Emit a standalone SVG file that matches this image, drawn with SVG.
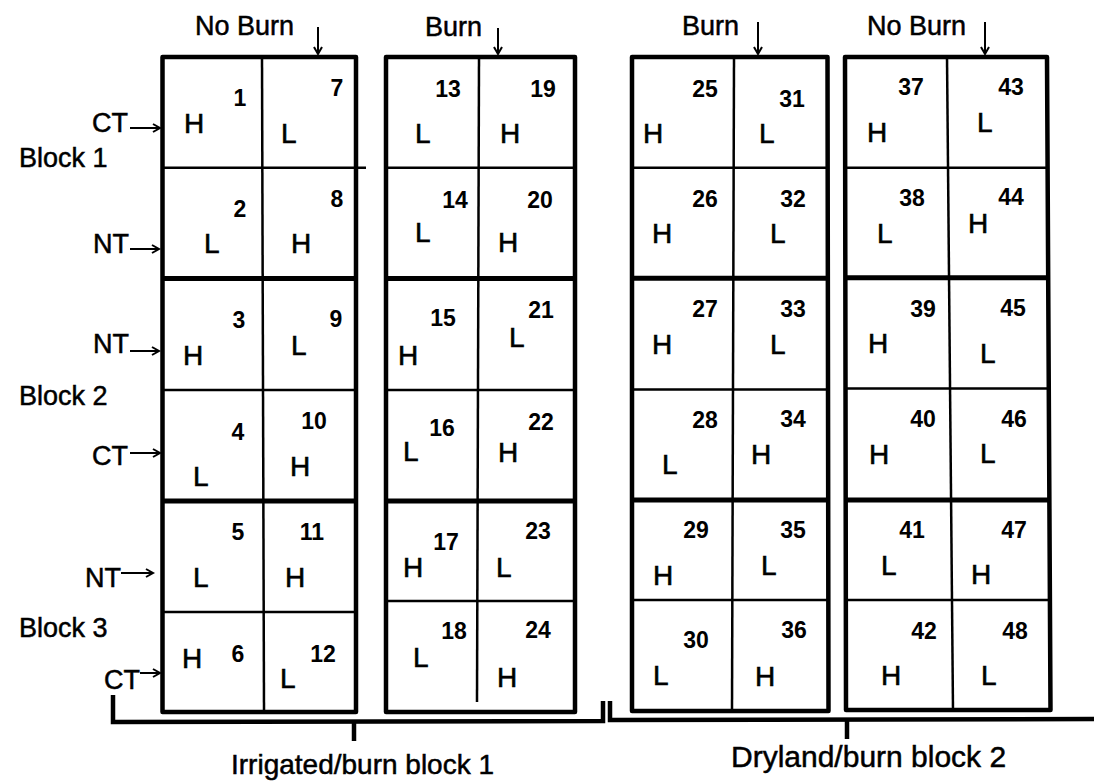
<svg xmlns="http://www.w3.org/2000/svg" width="1094" height="781" viewBox="0 0 1094 781">
<style>
text{font-family:"Liberation Sans",Arial,sans-serif;fill:#000}
.lbl{font-size:27px;stroke:#000;stroke-width:0.5}
.big{font-size:28px;stroke:#000;stroke-width:0.5}
.hl{font-size:28px;stroke:#000;stroke-width:0.6}
.num{font-size:23px;font-weight:bold;text-anchor:middle}
.outer{fill:none;stroke:#000;stroke-width:4.5;stroke-linejoin:round}
.thin{stroke:#000;stroke-width:2.5;fill:none}
.thick{stroke:#000;stroke-width:5;fill:none}
.conn{stroke:#000;stroke-width:2;fill:none}
.brk{stroke:#000;stroke-width:4.5;fill:none}
</style>
<defs>
<marker id="ah" markerUnits="userSpaceOnUse" markerWidth="12" markerHeight="12" refX="9" refY="5" orient="auto">
<path d="M2,1 L9,5 L2,9" fill="none" stroke="#000" stroke-width="2"/>
</marker>
</defs>
<rect width="1094" height="781" fill="#fff"/>

<g id="labels">
<text class="lbl" x="195" y="35">No Burn</text>
<text class="lbl" x="425" y="36">Burn</text>
<text class="lbl" x="682" y="35">Burn</text>
<text class="lbl" x="867" y="35">No Burn</text>
<text class="lbl" x="19" y="167">Block 1</text>
<text class="lbl" x="19" y="405">Block 2</text>
<text class="lbl" x="19" y="637">Block 3</text>
<text class="lbl" x="92" y="132">CT</text>
<text class="lbl" x="93" y="253">NT</text>
<text class="lbl" x="93" y="353">NT</text>
<text class="lbl" x="92" y="465">CT</text>
<text class="lbl" x="85" y="587">NT</text>
<text class="lbl" x="104" y="689">CT</text>
<text class="big" x="231" y="774">Irrigated/burn block 1</text>
<text class="big" style="font-size:30px" x="731" y="767">Dryland/burn block 2</text>
</g>

<g id="panel-1">
<rect class="outer" x="162.5" y="57" width="193.5" height="655"/>
<path class="thin" d="M262,57 L264,712"/>
<path class="thin" d="M162,167.7 L366,167.7 M162,390 L356,390 M162,612 L356,612"/>
<path class="thick" d="M162,278.5 L356,278.5 M162,501 L356,501"/>
</g>
<g id="panel-2">
<rect class="outer" x="386" y="57" width="189" height="655"/>
<path class="thin" d="M479,57 L477,702"/>
<path class="thin" d="M386,167.7 L575,167.7 M386,390 L575,390 M386,601 L575,601"/>
<path class="thick" d="M386,278.5 L575,278.5 M386,501 L575,501"/>
</g>
<g id="panel-3">
<path class="outer" d="M632,57 L827.5,57 L828.5,711 L632,711 Z"/>
<path class="thin" d="M734,57 L732,711"/>
<path class="thin" d="M632,167.7 L828,167.7 M632,389.5 L828,389.5 M632,600 L828,600"/>
<path class="thick" d="M632,278.3 L828,278.3 M632,500 L828,500"/>
</g>
<g id="panel-4">
<path class="outer" d="M845,57 L1047,57 L1050.5,710 L846,710 Z"/>
<path class="thin" d="M947,57 L953,710"/>
<path class="thin" d="M845,167.7 L1047.5,167.7 M845,388.5 L1048.5,388.5 M846,600 L1049.5,600"/>
<path class="thick" d="M845,277.7 L1048,277.7 M846,500 L1049,500"/>
</g>

<g id="cell-1"><text class="num" x="240" y="106">1</text><text class="hl" x="184" y="133">H</text></g>
<g id="cell-7"><text class="num" x="337" y="96">7</text><text class="hl" x="281" y="143">L</text></g>
<g id="cell-2"><text class="num" x="240" y="217">2</text><text class="hl" x="204" y="253">L</text></g>
<g id="cell-8"><text class="num" x="337" y="207">8</text><text class="hl" x="291" y="253">H</text></g>
<g id="cell-3"><text class="num" x="239" y="328">3</text><text class="hl" x="183" y="365">H</text></g>
<g id="cell-9"><text class="num" x="336" y="327">9</text><text class="hl" x="291" y="355">L</text></g>
<g id="cell-4"><text class="num" x="238" y="440">4</text><text class="hl" x="193" y="486">L</text></g>
<g id="cell-10"><text class="num" x="314" y="429">10</text><text class="hl" x="290" y="476">H</text></g>
<g id="cell-5"><text class="num" x="238" y="540">5</text><text class="hl" x="193" y="587">L</text></g>
<g id="cell-11"><text class="num" x="312" y="540">11</text><text class="hl" x="285" y="587">H</text></g>
<g id="cell-6"><text class="num" x="238" y="662">6</text><text class="hl" x="182" y="668">H</text></g>
<g id="cell-12"><text class="num" x="323" y="662">12</text><text class="hl" x="280" y="688">L</text></g>

<g id="cell-13"><text class="num" x="448" y="97">13</text><text class="hl" x="415" y="143">L</text></g>
<g id="cell-19"><text class="num" x="543" y="97">19</text><text class="hl" x="500" y="143">H</text></g>
<g id="cell-14"><text class="num" x="455" y="208">14</text><text class="hl" x="415" y="242">L</text></g>
<g id="cell-20"><text class="num" x="540" y="208">20</text><text class="hl" x="498" y="252">H</text></g>
<g id="cell-15"><text class="num" x="443" y="326">15</text><text class="hl" x="398" y="365">H</text></g>
<g id="cell-21"><text class="num" x="541" y="318">21</text><text class="hl" x="509" y="347">L</text></g>
<g id="cell-16"><text class="num" x="442" y="436">16</text><text class="hl" x="403" y="461">L</text></g>
<g id="cell-22"><text class="num" x="541" y="430">22</text><text class="hl" x="498" y="462">H</text></g>
<g id="cell-17"><text class="num" x="446" y="550">17</text><text class="hl" x="403" y="577">H</text></g>
<g id="cell-23"><text class="num" x="538" y="539">23</text><text class="hl" x="496" y="577">L</text></g>
<g id="cell-18"><text class="num" x="454" y="639">18</text><text class="hl" x="413" y="667">L</text></g>
<g id="cell-24"><text class="num" x="538" y="638">24</text><text class="hl" x="497" y="687">H</text></g>

<g id="cell-25"><text class="num" x="705" y="97">25</text><text class="hl" x="643" y="143">H</text></g>
<g id="cell-31"><text class="num" x="792" y="107">31</text><text class="hl" x="759" y="143">L</text></g>
<g id="cell-26"><text class="num" x="705" y="207">26</text><text class="hl" x="652" y="243">H</text></g>
<g id="cell-32"><text class="num" x="793" y="207">32</text><text class="hl" x="770" y="243">L</text></g>
<g id="cell-27"><text class="num" x="705" y="317">27</text><text class="hl" x="652" y="354">H</text></g>
<g id="cell-33"><text class="num" x="793" y="317">33</text><text class="hl" x="770" y="354">L</text></g>
<g id="cell-28"><text class="num" x="705" y="428">28</text><text class="hl" x="662" y="474">L</text></g>
<g id="cell-34"><text class="num" x="793" y="427">34</text><text class="hl" x="751" y="464">H</text></g>
<g id="cell-29"><text class="num" x="696" y="538">29</text><text class="hl" x="653" y="585">H</text></g>
<g id="cell-35"><text class="num" x="793" y="538">35</text><text class="hl" x="761" y="575">L</text></g>
<g id="cell-30"><text class="num" x="696" y="648">30</text><text class="hl" x="653" y="685">L</text></g>
<g id="cell-36"><text class="num" x="794" y="638">36</text><text class="hl" x="755" y="686">H</text></g>

<g id="cell-37"><text class="num" x="911" y="95">37</text><text class="hl" x="867" y="142">H</text></g>
<g id="cell-43"><text class="num" x="1011" y="95">43</text><text class="hl" x="977" y="132">L</text></g>
<g id="cell-38"><text class="num" x="912" y="206">38</text><text class="hl" x="877" y="243">L</text></g>
<g id="cell-44"><text class="num" x="1011" y="205">44</text><text class="hl" x="968" y="233">H</text></g>
<g id="cell-39"><text class="num" x="923" y="317">39</text><text class="hl" x="868" y="353">H</text></g>
<g id="cell-45"><text class="num" x="1013" y="316">45</text><text class="hl" x="980" y="363">L</text></g>
<g id="cell-40"><text class="num" x="923" y="427">40</text><text class="hl" x="869" y="464">H</text></g>
<g id="cell-46"><text class="num" x="1014" y="427">46</text><text class="hl" x="980" y="463">L</text></g>
<g id="cell-41"><text class="num" x="912" y="538">41</text><text class="hl" x="881" y="575">L</text></g>
<g id="cell-47"><text class="num" x="1014" y="538">47</text><text class="hl" x="971" y="584">H</text></g>
<g id="cell-42"><text class="num" x="924" y="639">42</text><text class="hl" x="881" y="685">H</text></g>
<g id="cell-48"><text class="num" x="1015" y="639">48</text><text class="hl" x="981" y="685">L</text></g>

<g id="connectors">
<path class="conn" marker-end="url(#ah)" d="M318,27 L318,54"/>
<path class="conn" marker-end="url(#ah)" d="M498,28 L498,54"/>
<path class="conn" marker-end="url(#ah)" d="M758,22 L758,54"/>
<path class="conn" marker-end="url(#ah)" d="M985,22 L985,54"/>
<path class="conn" marker-end="url(#ah)" d="M130,128 L160,128"/>
<path class="conn" marker-end="url(#ah)" d="M130,249 L159,249"/>
<path class="conn" marker-end="url(#ah)" d="M130,351 L159,351"/>
<path class="conn" marker-end="url(#ah)" d="M130,453 L160,453"/>
<path class="conn" marker-end="url(#ah)" d="M121,573 L153,573"/>
<path class="conn" marker-end="url(#ah)" d="M140,673 L160,673"/>
<path class="brk" d="M113,695 L113,722 L603,721 L603,701"/>
<path class="brk" d="M354,722 L354,741"/>
<path class="brk" d="M610,701 L610,720 L1094,719"/>
<path class="brk" d="M847,720 L847,739"/>
</g>
</svg>
